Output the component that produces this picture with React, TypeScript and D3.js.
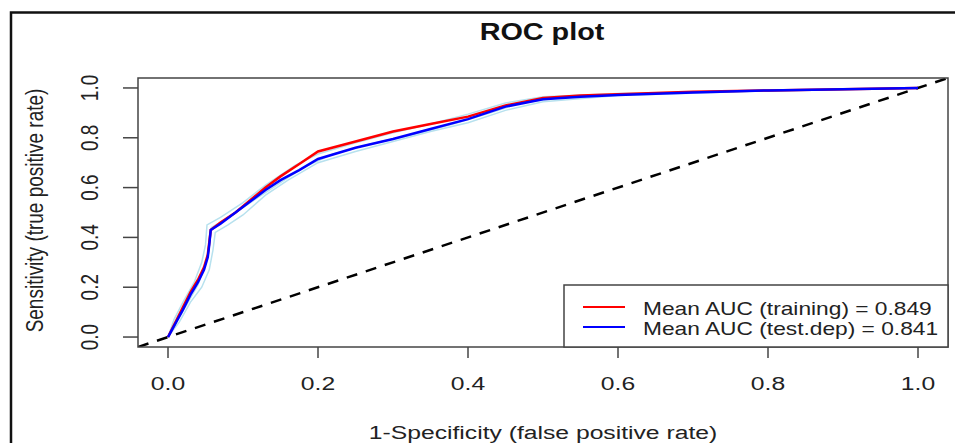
import * as d3 from 'd3';

// mean ROC curves, [1-specificity, sensitivity]
const trainingCurve: [number, number][] = [
  [0, 0], [0.01, 0.06], [0.02, 0.12], [0.03, 0.18], [0.04, 0.23], [0.048, 0.28],
  [0.053, 0.33], [0.055, 0.38], [0.057, 0.43], [0.07, 0.46], [0.09, 0.5],
  [0.11, 0.55], [0.13, 0.6], [0.15, 0.645], [0.175, 0.695], [0.2, 0.745],
  [0.25, 0.785], [0.3, 0.825], [0.35, 0.855], [0.4, 0.885], [0.45, 0.93],
  [0.5, 0.96], [0.55, 0.97], [0.6, 0.975], [0.7, 0.985], [0.8, 0.99],
  [0.9, 0.995], [1, 1]
];
const testCurve: [number, number][] = [
  [0, 0], [0.01, 0.055], [0.02, 0.11], [0.03, 0.17], [0.04, 0.22], [0.048, 0.27],
  [0.053, 0.32], [0.055, 0.37], [0.057, 0.43], [0.07, 0.455], [0.09, 0.5],
  [0.11, 0.545], [0.13, 0.59], [0.15, 0.63], [0.175, 0.67], [0.2, 0.715],
  [0.25, 0.76], [0.3, 0.795], [0.35, 0.835], [0.4, 0.875], [0.45, 0.925],
  [0.5, 0.955], [0.55, 0.965], [0.6, 0.972], [0.7, 0.982], [0.8, 0.99],
  [0.9, 0.995], [1, 1]
];
// individual runs drawn in light blue behind the means
const runA: [number, number][] = [
  [0, 0], [0.008, 0.07], [0.02, 0.14], [0.035, 0.22], [0.045, 0.3], [0.05, 0.37],
  [0.052, 0.45], [0.07, 0.48], [0.1, 0.54], [0.13, 0.61], [0.17, 0.69], [0.2, 0.735],
  [0.25, 0.78], [0.3, 0.82], [0.35, 0.855], [0.4, 0.895], [0.45, 0.94], [0.5, 0.965],
  [0.6, 0.978], [0.8, 0.99], [1, 1]
];
const runB: [number, number][] = [
  [0, 0], [0.015, 0.06], [0.03, 0.14], [0.045, 0.2], [0.055, 0.27], [0.06, 0.35],
  [0.063, 0.42], [0.08, 0.45], [0.1, 0.49], [0.13, 0.57], [0.16, 0.63], [0.2, 0.7],
  [0.25, 0.745], [0.3, 0.785], [0.35, 0.825], [0.4, 0.86], [0.45, 0.91], [0.5, 0.945],
  [0.6, 0.97], [0.8, 0.988], [1, 1]
];
const runC: [number, number][] = [
  [0, 0], [0.012, 0.065], [0.025, 0.13], [0.04, 0.21], [0.05, 0.29], [0.055, 0.36],
  [0.058, 0.44], [0.075, 0.47], [0.1, 0.52], [0.14, 0.6], [0.18, 0.68], [0.22, 0.735],
  [0.27, 0.775], [0.33, 0.815], [0.38, 0.855], [0.43, 0.9], [0.47, 0.94], [0.52, 0.96],
  [0.65, 0.98], [0.85, 0.992], [1, 1]
];
const runs = [runA, runB, runC];
const diagonal: [number, number][] = [[-0.04, -0.04], [1.04, 1.04]];

const ticks = [0, 0.2, 0.4, 0.6, 0.8, 1.0];
const legendLabels = ['Mean AUC (training) = 0.849', 'Mean AUC (test.dep) = 0.841'];
const legendColors = ['#ff0000', '#0000ff'];

const FONT = 'Liberation Sans, Arial, sans-serif';
const SX = 1.3; // picture is stretched sideways

export default function App() {
  const left = 138, right = 948, top = 78, bottom = 347;
  const x = d3.scaleLinear().domain([-0.04, 1.04]).range([left, right]);
  const y = d3.scaleLinear().domain([-0.04, 1.04]).range([bottom, top]);
  const line = d3.line<[number, number]>().x(d => x(d[0])).y(d => y(d[1]));

  return (
    <svg width={955} height={443} style={{ position: 'absolute', left: 0, top: 0, background: '#fff' }}>
      <defs>
        <clipPath id="plotClip">
          <rect x={left} y={top} width={right - left} height={bottom - top} />
        </clipPath>
      </defs>
      {/* outer frame */}
      <rect x={11} y={12.5} width={1000} height={500} fill="none" stroke="#111" strokeWidth={2.5} />

      <text transform={`translate(542,40) scale(1.2,1)`} textAnchor="middle"
        fontFamily={FONT} fontWeight="bold" fontSize={24} fill="#111">ROC plot</text>

      <g clipPath="url(#plotClip)">
        {runs.map((r, i) => (
          <path key={i} d={line(r) || ''} fill="none" stroke="#b7e1ee" strokeWidth={1.5} />
        ))}
        <path d={line(diagonal) || ''} fill="none" stroke="#000" strokeWidth={2.5} strokeDasharray="11,9" />
        <path d={line(trainingCurve) || ''} fill="none" stroke="#ff0000" strokeWidth={2.5} />
        <path d={line(testCurve) || ''} fill="none" stroke="#0000ff" strokeWidth={2.5} />
      </g>

      <rect x={left} y={top} width={right - left} height={bottom - top} fill="none" stroke="#444" strokeWidth={1.5} />

      {/* x axis */}
      {ticks.map(t => (
        <g key={'x' + t}>
          <line x1={x(t)} x2={x(t)} y1={bottom} y2={bottom + 11} stroke="#444" strokeWidth={1.5} />
          <text transform={`translate(${x(t)},390) scale(${SX},1)`} textAnchor="middle"
            fontFamily={FONT} fontSize={19} fill="#222">{t.toFixed(1)}</text>
        </g>
      ))}
      {/* y axis */}
      {ticks.map(t => (
        <g key={'y' + t}>
          <line x1={left} x2={left - 15} y1={y(t)} y2={y(t)} stroke="#444" strokeWidth={1.5} />
          <text transform={`translate(98,${y(t)}) rotate(-90) scale(1,${SX})`} textAnchor="middle"
            fontFamily={FONT} fontSize={19} fill="#222">{t.toFixed(1)}</text>
        </g>
      ))}

      <text transform={`translate(543,439) scale(${SX},1)`} textAnchor="middle"
        fontFamily={FONT} fontSize={19} fill="#222">1-Specificity (false positive rate)</text>
      <text transform={`translate(43,${(top + bottom) / 2 - 2}) rotate(-90) scale(1,${SX})`} textAnchor="middle"
        fontFamily={FONT} fontSize={19} fill="#222">Sensitivity (true positive rate)</text>

      {/* legend */}
      <rect x={564} y={285} width={right - 564} height={bottom - 285} fill="#fff" stroke="#444" strokeWidth={1.5} />
      {legendLabels.map((lab, i) => (
        <g key={lab}>
          <line x1={583} x2={625} y1={307 + i * 20} y2={307 + i * 20} stroke={legendColors[i]} strokeWidth={2} />
          <text transform={`translate(643,${315 + i * 19.5}) scale(${SX},1)`}
            fontFamily={FONT} fontSize={17.5} fill="#222">{lab}</text>
        </g>
      ))}
    </svg>
  );
}
